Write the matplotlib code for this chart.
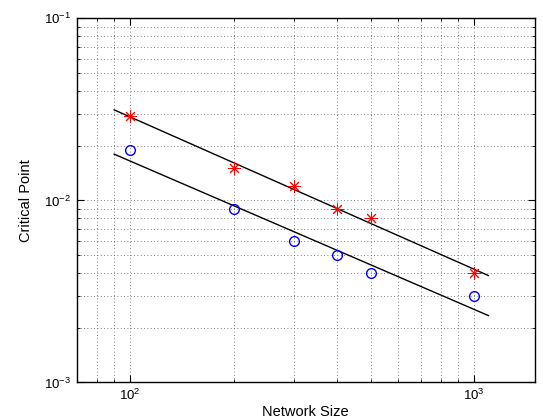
import numpy as np
import matplotlib
matplotlib.use('Agg')
import matplotlib.pyplot as plt
from matplotlib.ticker import LogLocator, NullFormatter

# network sizes and measured critical points
sizes = [100, 200, 300, 400, 500, 1000]
crit_red = [0.029, 0.015, 0.012, 0.009, 0.008, 0.004]
crit_blue = [0.019, 0.009, 0.006, 0.005, 0.004, 0.003]
fit_range = [90, 1100]

plt.rcParams['font.family'] = ['Liberation Sans', 'DejaVu Sans']
plt.rcParams['font.size'] = 9.5

fig = plt.figure(figsize=(5.43, 4.18), dpi=100)
ax = fig.add_axes([0.141, 0.085, 0.844, 0.871])

xs = np.array(sizes, dtype=float)
xf = np.logspace(np.log10(fit_range[0]), np.log10(fit_range[1]), 50)
for ys in (crit_red, crit_blue):
    p = np.polyfit(np.log10(xs), np.log10(ys), 1)
    ax.loglog(xf, 10 ** np.polyval(p, np.log10(xf)), color='k', lw=1)

ax.loglog(sizes, crit_red, ls='none', marker=(8, 2, 0), ms=9, mec='red', mew=0.7)
ax.loglog(sizes, crit_blue, ls='none', marker='o', ms=7, mfc='none', mec='blue', mew=1)

ax.set_xlim(70, 1500)
ax.set_ylim(1e-3, 1e-1)
ax.xaxis.set_minor_locator(LogLocator(base=10, subs=np.arange(2, 10)))
ax.yaxis.set_minor_locator(LogLocator(base=10, subs=np.arange(2, 10)))
ax.xaxis.set_minor_formatter(NullFormatter())
ax.yaxis.set_minor_formatter(NullFormatter())

ax.grid(True, which='both', ls=(0, (1, 3)), color='#555555', lw=0.6)
ax.tick_params(which='both', direction='in', top=True, right=True)
ax.tick_params(which='major', length=5, pad=4)
ax.tick_params(which='minor', length=2.5)
for s in ax.spines.values():
    s.set_linewidth(1)

ax.set_xlabel('Network Size', fontsize=10.5, labelpad=1)
ax.set_ylabel('Critical Point', fontsize=10.5, labelpad=8)

fig.savefig('out.png', dpi=100)
